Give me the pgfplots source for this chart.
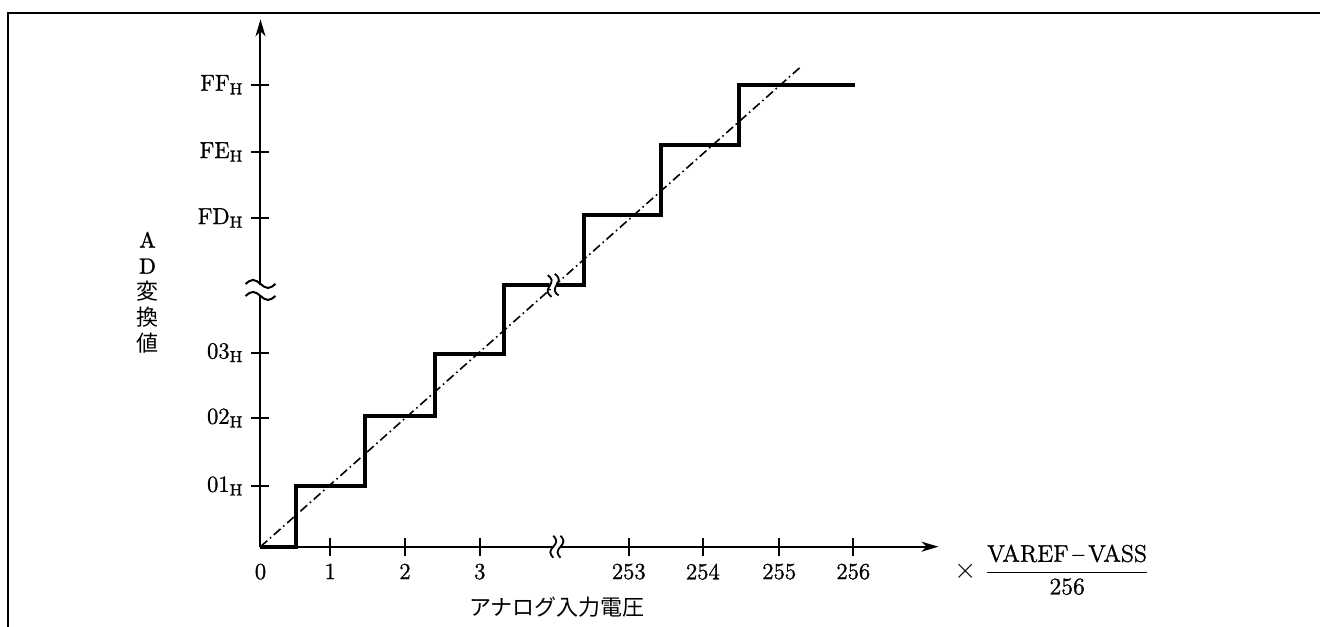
\documentclass[border=0pt]{standalone}
\usepackage{pgfplots}
\pgfplotsset{compat=1.18}
\usetikzlibrary{arrows.meta}
\usepackage{fontspec}
\newfontfamily\jp{Noto Sans CJK JP}
\newfontfamily\lmb{Latin Modern Roman}[FakeBold=1.2, Ligatures=TeX]
\begin{document}
\fontsize{11.5}{13}\selectfont
\begin{tikzpicture}
\useasboundingbox (-130.25pt,-39.65pt) rectangle (529.75pt,273.35pt);
\begin{axis}[
  anchor=south west, at={(0pt,0pt)},
  x=37.05pt, y=33pt,
  xmin=0, xmax=9.15, ymin=0, ymax=7.99,
  enlargelimits=false,
  clip=false,
  axis lines=left,
  axis line style={line width=1pt, -{Stealth[length=8.5pt,width=5pt,inset=2.5pt]}},
  xtick={0.94,1.95,2.96,4.97,5.97,7.0,8.0},
  xticklabels={1,2,3,253,254,255,256},
  extra x ticks={0},
  extra x tick labels={0},
  extra x tick style={major tick length=0pt, tick label style={yshift=-4.5pt}},
  ytick={0.92,1.95,2.94,4.98,5.98,7},
  yticklabels={01\textsubscript{H},02\textsubscript{H},03\textsubscript{H},FD\textsubscript{H},FE\textsubscript{H},FF\textsubscript{H}},
  yticklabel style={xshift=0pt},
  tick align=center,
  major tick length=9pt,
  every tick/.style={black, line width=1pt},
  tick label style={font=\lmb\fontsize{11.5}{13}\selectfont},
]
% ideal conversion line
\addplot[black, line width=0.8pt, dash pattern=on 4.5pt off 1.8pt on 0.8pt off 1.8pt]
  coordinates {(0,0) (7.30,7.28)};
% staircase
\addplot[black, line width=2pt, line join=miter]
  coordinates {(0,0) (0.475,0) (0.475,0.92) (1.41,0.92) (1.41,1.98) (2.36,1.98)
   (2.36,2.92) (3.29,2.92) (3.29,3.96) (4.36,3.96) (4.36,5.02) (5.41,5.02)
   (5.41,6.08) (6.46,6.08) (6.46,7.0) (8.02,7.0)};
\coordinate (yb) at (axis cs:0,3.89);
\coordinate (xb) at (axis cs:4.0,0);
\coordinate (sb) at (axis cs:3.95,3.96);
\node[font=\jp\fontsize{11}{12}\selectfont] at (axis cs:4.0,-0.91) {アナログ入力電圧};
\node[align=center, font=\fontsize{11}{13}\selectfont] at (axis cs:-1.525,3.85)
  {{\lmb A}\\{\lmb D}\\{\jp 変}\\{\jp 換}\\{\jp 値}};
\node[anchor=west, inner sep=0pt] at (axis cs:9.36,-0.35)
  {{\fontsize{15}{15}\selectfont$\times$}\hspace{4pt}$\displaystyle\frac{\mbox{\lmb\fontsize{12}{13}\selectfont VAREF\,–\,VASS}}{\mbox{\lmb\fontsize{12}{13}\selectfont 256}}$};
\end{axis}
% y-axis break
\begin{scope}[shift={(yb)}]
\fill[white] (-1.5pt,-2.6pt) rectangle (1.5pt,2.6pt);
\draw[line width=1pt] (-7.5pt,3pt) sin (-3.75pt,5pt) cos (0pt,3pt) sin (3.75pt,1pt) cos (7.5pt,3pt);
\draw[line width=1pt] (-7.5pt,-3pt) sin (-3.75pt,-1pt) cos (0pt,-3pt) sin (3.75pt,-5pt) cos (7.5pt,-3pt);
\end{scope}
% x-axis break
\begin{scope}[shift={(xb)}, rotate=90]
\fill[white] (-1.5pt,-1.6pt) rectangle (1.5pt,1.6pt);
\draw[line width=0.9pt] (-5.5pt,1.8pt) sin (-2.75pt,3.3pt) cos (0pt,1.8pt) sin (2.75pt,0.3pt) cos (5.5pt,1.8pt);
\draw[line width=0.9pt] (-5.5pt,-1.8pt) sin (-2.75pt,-0.3pt) cos (0pt,-1.8pt) sin (2.75pt,-3.3pt) cos (5.5pt,-1.8pt);
\end{scope}
% staircase break
\begin{scope}[shift={(sb)}, rotate=100]
\fill[white] (-1.6pt,-1.6pt) rectangle (1.6pt,1.6pt);
\draw[line width=0.9pt] (-5.5pt,1.8pt) sin (-2.75pt,3.3pt) cos (0pt,1.8pt) sin (2.75pt,0.3pt) cos (5.5pt,1.8pt);
\draw[line width=0.9pt] (-5.5pt,-1.8pt) sin (-2.75pt,-0.3pt) cos (0pt,-1.8pt) sin (2.75pt,-3.3pt) cos (5.5pt,-1.8pt);
\end{scope}
% frame
\draw[line width=1.2pt] (532pt,266.85pt) -- (-126.25pt,266.85pt) -- (-126.25pt,-42pt);
\end{tikzpicture}
\end{document}
